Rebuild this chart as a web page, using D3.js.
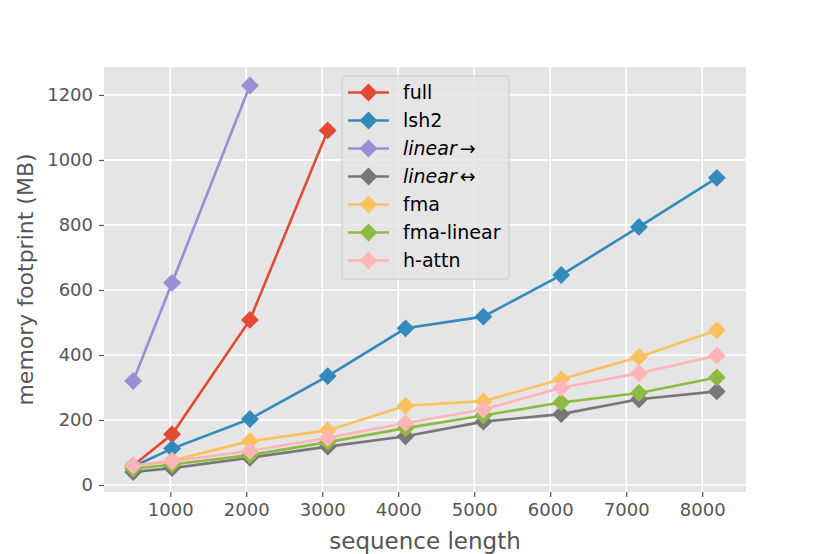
<!DOCTYPE html>
<html>
<head>
<meta charset="utf-8">
<script src="https://cdn.jsdelivr.net/npm/d3@7"></script>
<style>
  body { margin: 0; background: #fff; }
  text { font-family: "DejaVu Sans", sans-serif; }
</style>
</head>
<body>
<div id="chart"></div>
<script>
// sequence lengths on the x axis
var seqLengths = [512, 1024, 2048, 3072, 4096, 5120, 6144, 7168, 8192];

// memory footprint (MB) for each method
var fullMem       = [60, 156, 508, 1091];
var lsh2Mem       = [57, 112, 203, 335, 482, 518, 646, 794, 945];
var linearFwdMem  = [320, 622, 1229];
var linearBiMem   = [40, 52, 84, 118, 150, 195, 218, 264, 288];
var fmaMem        = [58, 75, 135, 168, 244, 258, 325, 394, 476];
var fmaLinearMem  = [50, 63, 92, 132, 175, 214, 254, 283, 331];
var hAttnMem      = [60, 73, 105, 145, 191, 232, 299, 344, 398];

var seriesNames  = ["full", "lsh2", "linear\u2192", "linear\u2194", "fma", "fma-linear", "h-attn"];
var seriesValues = [fullMem, lsh2Mem, linearFwdMem, linearBiMem, fmaMem, fmaLinearMem, hAttnMem];
var seriesColors = ["#E24A33", "#348ABD", "#988ED5", "#777777", "#FBC15E", "#8EBA42", "#FFB5B8"];

var xTicks = [1000, 2000, 3000, 4000, 5000, 6000, 7000, 8000];
var yTicks = [0, 200, 400, 600, 800, 1000, 1200];

var width = 830, height = 554;
var plot = { left: 104, right: 746, top: 67, bottom: 492 };

var svg = d3.select("#chart").append("svg")
            .attr("width", width)
            .attr("height", height);

var x = d3.scaleLinear().domain([128, 8576]).range([plot.left, plot.right]);
var y = d3.scaleLinear().domain([-21.5, 1286]).range([plot.bottom, plot.top]);

svg.append("rect")
   .attr("x", plot.left).attr("y", plot.top)
   .attr("width", plot.right - plot.left)
   .attr("height", plot.bottom - plot.top)
   .style("fill", "#E5E5E5");

// grid
svg.append("g").selectAll("line").data(xTicks).enter().append("line")
   .attr("x1", function (d) { return x(d); }).attr("x2", function (d) { return x(d); })
   .attr("y1", plot.top).attr("y2", plot.bottom)
   .style("stroke", "#fff").style("stroke-width", 1.7);
svg.append("g").selectAll("line").data(yTicks).enter().append("line")
   .attr("y1", function (d) { return y(d); }).attr("y2", function (d) { return y(d); })
   .attr("x1", plot.left).attr("x2", plot.right)
   .style("stroke", "#fff").style("stroke-width", 1.7);

// axes
var fmt = d3.format("d");
var xAxis = svg.append("g")
   .attr("transform", "translate(0," + plot.bottom + ")")
   .call(d3.axisBottom(x).tickValues(xTicks).tickFormat(fmt).tickSize(5).tickPadding(6));
var yAxis = svg.append("g")
   .attr("transform", "translate(" + plot.left + ",0)")
   .call(d3.axisLeft(y).tickValues(yTicks).tickFormat(fmt).tickSize(5).tickPadding(6));
[xAxis, yAxis].forEach(function (a) {
  a.select(".domain").remove();
  a.selectAll("line").style("stroke", "#555").style("stroke-width", 1.2);
  a.selectAll("text").style("fill", "#555").style("font-size", "18px")
   .style("font-family", "DejaVu Sans");
});

svg.append("text")
   .attr("x", (plot.left + plot.right) / 2).attr("y", 549)
   .attr("text-anchor", "middle")
   .style("font-size", "23px").style("fill", "#555")
   .text("sequence length");
svg.append("text")
   .attr("transform", "translate(33," + (plot.top + plot.bottom) / 2 + ") rotate(-90)")
   .attr("text-anchor", "middle")
   .style("font-size", "22px").style("fill", "#555")
   .text("memory footprint (MB)");

var line = d3.line()
   .x(function (d) { return x(d[0]); })
   .y(function (d) { return y(d[1]); });
var diamond = d3.symbol().type(d3.symbolSquare).size(160);

seriesValues.forEach(function (vals, i) {
  var pts = vals.map(function (v, j) { return [seqLengths[j], v]; });
  var g = svg.append("g");
  g.append("path").datum(pts)
   .attr("d", line)
   .style("fill", "none")
   .style("stroke", seriesColors[i])
   .style("stroke-width", 2.6);
  g.selectAll("path.m").data(pts).enter().append("path")
   .attr("class", "m")
   .attr("d", diamond)
   .attr("transform", function (d) { return "translate(" + x(d[0]) + "," + y(d[1]) + ") rotate(45)"; })
   .style("fill", seriesColors[i]);
});

// legend
var lg = svg.append("g");
lg.append("rect")
  .attr("x", 342).attr("y", 76).attr("width", 167).attr("height", 203)
  .attr("rx", 3)
  .style("fill", "#E5E5E5").style("fill-opacity", 0.8)
  .style("stroke", "#CCCCCC").style("stroke-width", 1);
seriesNames.forEach(function (name, i) {
  var cy = 92.5 + i * 28;
  lg.append("line")
    .attr("x1", 348).attr("x2", 389).attr("y1", cy).attr("y2", cy)
    .style("stroke", seriesColors[i]).style("stroke-width", 2.6);
  lg.append("path")
    .attr("d", diamond)
    .attr("transform", "translate(368.5," + cy + ") rotate(45)")
    .style("fill", seriesColors[i]);
  var t = lg.append("text")
    .attr("x", 403).attr("y", cy + 6.5)
    .style("font-size", "19px").style("fill", "#000");
  if (name.indexOf("linear") === 0) {
    t.append("tspan").style("font-style", "italic").text("linear");
    t.append("tspan").attr("dx", 3).text(name.slice(6));
  } else {
    t.text(name);
  }
});
</script>
</body>
</html>
